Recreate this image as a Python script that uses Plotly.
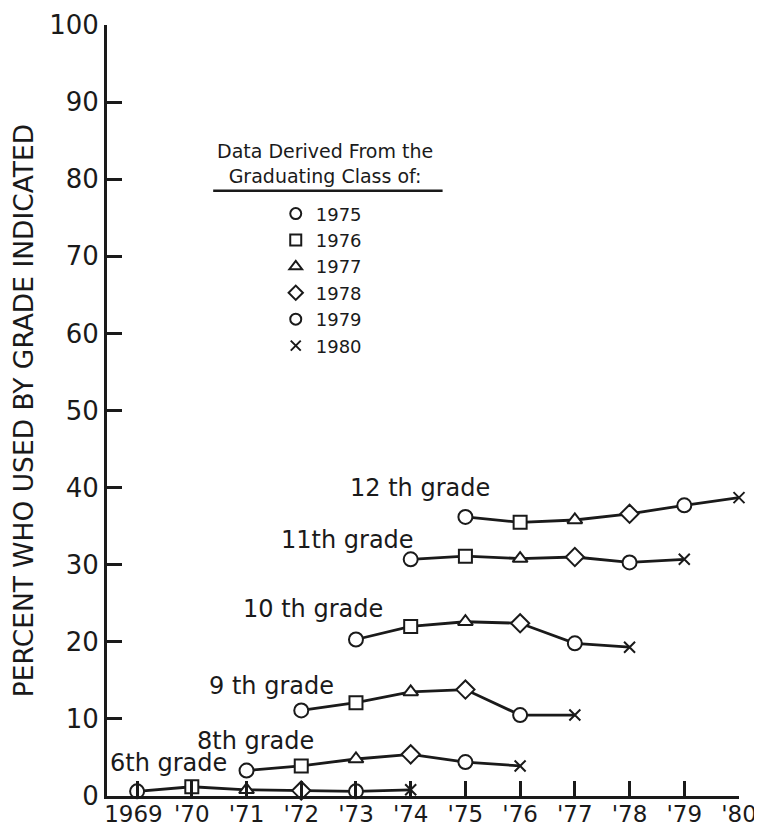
import plotly.graph_objects as go

# ---------------- data ----------------
grade_labels = ["6th grade", "8th grade", "9 th grade", "10 th grade", "11th grade", "12 th grade"]
grade_numbers = [6, 8, 9, 10, 11, 12]
grade_years = [
    [1969, 1970, 1971, 1972, 1973, 1974],
    [1971, 1972, 1973, 1974, 1975, 1976],
    [1972, 1973, 1974, 1975, 1976, 1977],
    [1973, 1974, 1975, 1976, 1977, 1978],
    [1974, 1975, 1976, 1977, 1978, 1979],
    [1975, 1976, 1977, 1978, 1979, 1980],
]
grade_values = [
    [0.6, 1.2, 0.8, 0.7, 0.6, 0.8],
    [3.3, 3.9, 4.8, 5.4, 4.4, 3.9],
    [11.1, 12.1, 13.5, 13.8, 10.5, 10.5],
    [20.3, 22.0, 22.6, 22.4, 19.8, 19.3],
    [30.7, 31.1, 30.8, 31.0, 30.3, 30.7],
    [36.2, 35.5, 35.8, 36.6, 37.7, 38.7],
]
# label anchor positions (data coords) for each grade's text
label_x = [1969.58, 1971.16, 1971.45, 1972.22, 1972.84, 1974.17]
label_y = [4.3, 7.1, 14.3, 24.3, 33.2, 39.9]

classes = [1975, 1976, 1977, 1978, 1979, 1980]
tick_years = list(range(1969, 1981))
tick_text = ["1969\u00a0", "'70", "'71", "'72", "'73", "'74", "'75", "'76", "'77", "'78", "'79", "'80"]
y_ticks = list(range(0, 101, 10))

# ---------------- style ----------------
FONT = "DejaVu Sans"
INK = "#1a1a1a"
class_symbol = {1975: "circle", 1976: "square", 1977: "triangle-up",
                1978: "diamond", 1979: "circle", 1980: "x-thin"}
class_size = {1975: 14, 1976: 13, 1977: 13, 1978: 14, 1979: 14, 1980: 11}

fig = go.Figure()

for gl, gn, yrs, vals in zip(grade_labels, grade_numbers, grade_years, grade_values):
    cls = [y + (12 - gn) for y in yrs]
    fig.add_trace(go.Scatter(
        x=yrs, y=vals, mode="lines+markers", name=gl, showlegend=False,
        line=dict(color=INK, width=2.8),
        marker=dict(symbol=[class_symbol[c] for c in cls],
                    size=[class_size[c] for c in cls],
                    color="#ffffff", opacity=1,
                    line=dict(color=INK, width=2)),
        cliponaxis=False,
        hoverinfo="x+y+name",
    ))

# legend entries (graduating classes)
for i, c in enumerate(classes):
    sym = class_symbol[c]
    fig.add_trace(go.Scatter(
        x=[None], y=[None], mode="markers", name=str(c),
        legendgroup=str(c),
        marker=dict(symbol=sym, size=11 if sym != "x-thin" else 10,
                    color="white", line=dict(color=INK, width=2)),
    ))

for gl, lx, ly in zip(grade_labels, label_x, label_y):
    fig.add_annotation(x=lx, y=ly, text=gl, showarrow=False,
                       xanchor="center", yanchor="middle",
                       font=dict(family=FONT, size=24, color=INK))

# legend header
fig.add_annotation(xref="paper", yref="paper", x=0.345, y=0.820,
                   text="Data Derived From the<br>Graduating Class of:",
                   showarrow=False, xanchor="center", yanchor="middle",
                   font=dict(family=FONT, size=19, color=INK))
fig.add_shape(type="line", xref="paper", yref="paper",
              x0=0.168, x1=0.531, y0=0.785, y1=0.785,
              line=dict(color=INK, width=2.5))

# the page body adds an 8px margin; size/margins compensate for it
fig.update_layout(
    width=754, height=821,
    margin=dict(l=99, r=23, t=17, b=33),
    paper_bgcolor="white", plot_bgcolor="white",
    font=dict(family=FONT, color=INK),
    legend=dict(x=0.267, y=0.779, xanchor="left", yanchor="top",
                bgcolor="rgba(0,0,0,0)", itemwidth=30,
                tracegroupgap=0, traceorder="grouped",
                font=dict(family=FONT, size=18, color=INK)),
    xaxis=dict(range=[1968.45, 1980], tickmode="array",
               tickvals=tick_years, ticktext=tick_text, tickangle=0,
               ticks="inside", ticklen=15, tickwidth=2.5, tickcolor=INK,
               showline=True, linecolor=INK, linewidth=3,
               showgrid=False, zeroline=False, automargin=False,
               layer="above traces", ticklabelstandoff=-5,
               tickfont=dict(family=FONT, size=23, color=INK)),
    yaxis=dict(range=[0, 100], tickmode="array", tickvals=y_ticks,
               ticks="inside", ticklen=15, tickwidth=2.5, tickcolor=INK,
               showline=True, linecolor=INK, linewidth=3,
               showgrid=False, zeroline=False, automargin=False,
               layer="above traces",
               tickfont=dict(family=FONT, size=26, color=INK),
               title=dict(text="PERCENT WHO USED BY GRADE INDICATED",
                          standoff=10,
                          font=dict(family=FONT, size=26.5, color=INK))),
)

fig.write_html("out.html")
